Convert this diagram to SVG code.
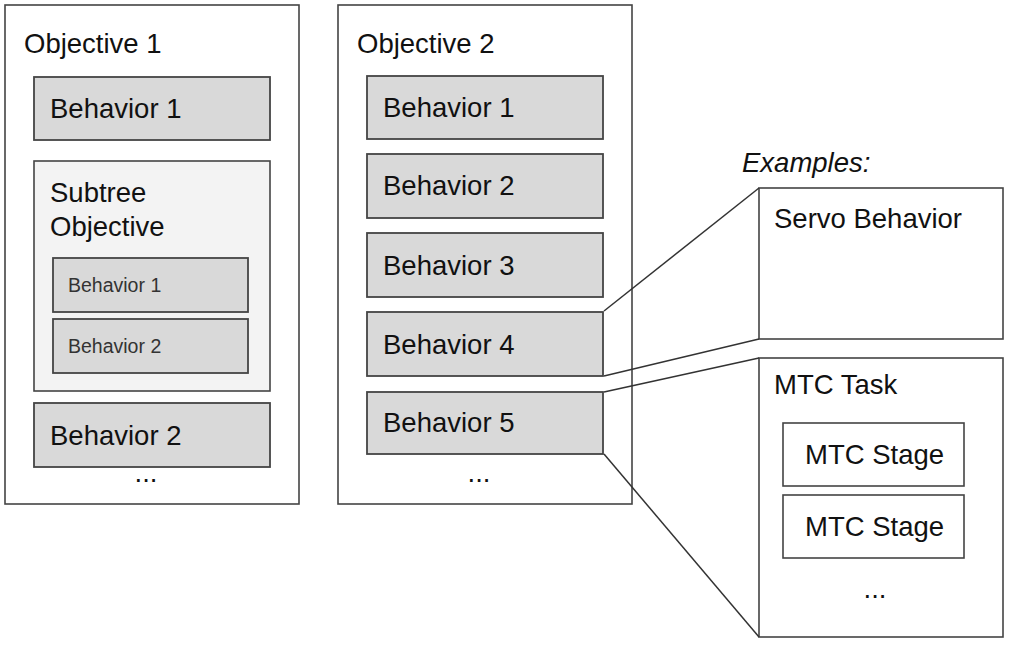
<svg xmlns="http://www.w3.org/2000/svg" width="1010" height="647" viewBox="0 0 1010 647">
<style>
text{font-family:"Liberation Sans",Arial,sans-serif;font-size:27.5px;fill:#111}
.frame{fill:#fff;stroke:#444;stroke-width:1.6}
.beh{fill:#d9d9d9;stroke:#444;stroke-width:1.8}
.sub{fill:#f3f3f3;stroke:#444;stroke-width:1.6}
.small{font-size:19.5px;fill:#333}
.conn{stroke:#333;stroke-width:1.5;fill:none}
.c{text-anchor:middle}
</style>
<rect width="1010" height="647" fill="#fff"/>
<g id="objective1">
<rect class="frame" x="5" y="5" width="294" height="499"/>
<text x="24" y="53">Objective 1</text>
</g>
<g id="obj1-behavior1"><rect class="beh" x="34" y="77" width="236" height="63"/><text x="50" y="118">Behavior 1</text></g>
<g id="subtree-objective">
<rect class="sub" x="34" y="161" width="236" height="230"/>
<text x="50" y="202">Subtree</text>
<text x="50" y="236">Objective</text>
</g>
<g id="subtree-behavior1"><rect class="beh" x="53" y="258" width="195" height="54"/><text class="small" x="68" y="292">Behavior 1</text></g>
<g id="subtree-behavior2"><rect class="beh" x="53" y="319" width="195" height="54"/><text class="small" x="68" y="353">Behavior 2</text></g>
<g id="obj1-behavior2"><rect class="beh" x="34" y="403" width="236" height="64"/><text x="50" y="445">Behavior 2</text></g>
<g id="obj1-more"><text class="c" x="146" y="482">...</text></g>

<g id="objective2">
<rect class="frame" x="338" y="5" width="294" height="499"/>
<text x="357" y="53">Objective 2</text>
</g>
<g id="obj2-behavior1"><rect class="beh" x="367" y="76" width="236" height="63"/><text x="383" y="117">Behavior 1</text></g>
<g id="obj2-behavior2"><rect class="beh" x="367" y="154" width="236" height="64"/><text x="383" y="195">Behavior 2</text></g>
<g id="obj2-behavior3"><rect class="beh" x="367" y="233" width="236" height="64"/><text x="383" y="275">Behavior 3</text></g>
<g id="obj2-behavior4"><rect class="beh" x="367" y="312" width="236" height="64"/><text x="383" y="354">Behavior 4</text></g>
<g id="obj2-behavior5"><rect class="beh" x="367" y="392" width="236" height="62"/><text x="383" y="432">Behavior 5</text></g>
<g id="obj2-more"><text class="c" x="479" y="482">...</text></g>

<g id="examples-label"><text x="742" y="172" font-style="italic">Examples:</text></g>
<g id="servo-behavior">
<rect class="frame" x="759" y="188" width="244" height="151"/>
<text x="774" y="228">Servo Behavior</text>
</g>
<g id="mtc-task">
<rect class="frame" x="759" y="358" width="244" height="279"/>
<text x="774" y="394">MTC Task</text>
<text class="c" x="875" y="598">...</text>
</g>
<g id="mtc-stage1"><rect class="frame" x="783" y="423" width="181" height="63"/><text x="805" y="464">MTC Stage</text></g>
<g id="mtc-stage2"><rect class="frame" x="783" y="495" width="181" height="63"/><text x="805" y="536">MTC Stage</text></g>

<g id="connectors">
<line class="conn" x1="604" y1="311" x2="759" y2="188"/>
<line class="conn" x1="604" y1="376" x2="759" y2="339"/>
<line class="conn" x1="604" y1="392" x2="759" y2="358"/>
<line class="conn" x1="604" y1="454" x2="759" y2="637"/>
</g>
</svg>
